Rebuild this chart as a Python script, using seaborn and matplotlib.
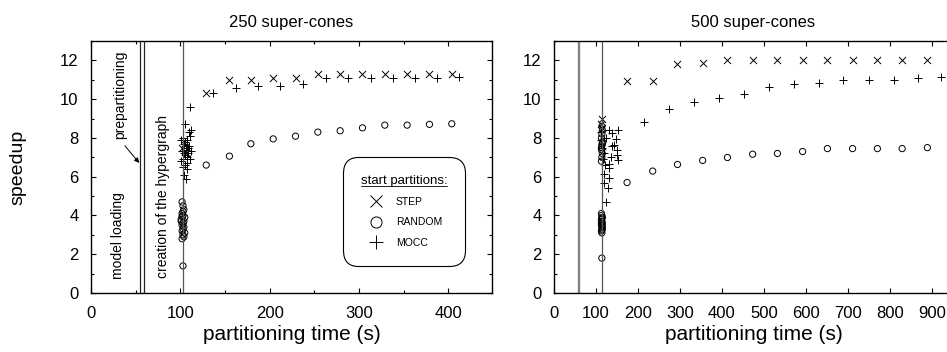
"""
speedup over partitioning time, 250 / 500 super-cones
"""
import matplotlib
matplotlib.use('Agg')
import matplotlib.pyplot as plt
from matplotlib.lines import Line2D
from matplotlib.ticker import MultipleLocator
import seaborn as sns

sns.set_style('ticks')
plt.rcParams['font.family'] = ['Liberation Sans', 'DejaVu Sans']
plt.rcParams['text.color'] = 'black'
plt.rcParams['axes.labelcolor'] = 'black'
plt.rcParams['xtick.color'] = 'black'
plt.rcParams['ytick.color'] = 'black'
plt.rcParams['axes.edgecolor'] = 'black'

# ---- 250 super-cones ----
step_250_x = [102, 104, 106, 129, 155, 179, 204, 229, 254, 279, 304, 329, 354, 379, 404]
step_250_y = [7.5, 7.7, 7.2, 10.3, 11.0, 11.0, 11.1, 11.1, 11.3, 11.3, 11.3, 11.3, 11.3, 11.3, 11.3]

random_250_x = [102, 103, 104, 102, 103, 105, 101, 104, 103, 102, 104, 103, 102, 105, 103, 104, 102, 103,
                101, 103, 102,
                129, 155, 179, 204, 229, 254, 279, 304, 329, 354, 379, 404]
random_250_y = [4.7, 4.5, 4.3, 4.1, 4.0, 3.9, 3.8, 3.7, 3.6, 3.5, 3.4, 3.3, 3.2, 3.1, 3.0, 2.9, 2.8, 4.2,
                3.7, 1.4, 3.95,
                6.6, 7.06, 7.7, 7.95, 8.09, 8.3, 8.37, 8.52, 8.66, 8.66, 8.7, 8.73]

mocc_250_x = [101, 103, 105, 107, 109, 111, 102, 104, 106, 108, 110, 112, 101, 103, 105, 107, 109, 111,
              103, 105, 107, 104, 106, 108, 110, 112, 111, 105, 104, 106,
              137, 162, 187, 212, 237, 263, 288, 313, 338, 363, 388, 412]
mocc_250_y = [7.9, 8.0, 7.8, 7.6, 7.5, 8.1, 7.3, 7.2, 7.4, 7.0, 7.6, 7.3, 6.8, 6.9, 7.1, 6.7, 7.2, 6.9,
              6.5, 6.6, 6.4, 7.7, 7.5, 7.9, 8.3, 8.4, 9.6, 8.7, 6.1, 5.9,
              10.3, 10.55, 10.67, 10.7, 10.8, 11.1, 11.1, 11.1, 11.1, 11.1, 11.1, 11.15]

# ---- 500 super-cones ----
step_500_x = [114, 113, 115, 114, 174, 235, 294, 354, 413, 473, 532, 592, 651, 711, 770, 829, 889]
step_500_y = [9.0, 8.7, 8.5, 7.6, 10.95, 10.95, 11.8, 11.87, 12.0, 12.0, 12.0, 12.0, 12.0, 12.0, 12.0,
              12.0, 12.0]

random_500_x = [114, 113, 115, 114, 113, 115, 114, 113, 115, 114, 113, 114, 115, 113, 114, 114,
                113, 114, 115, 113, 114, 115, 113, 114, 115, 114, 113, 115,
                174, 235, 294, 354, 413, 473, 532, 592, 651, 711, 770, 829, 889]
random_500_y = [3.1, 3.2, 3.3, 3.4, 3.5, 3.6, 3.7, 3.8, 3.9, 4.0, 4.1, 3.25, 3.45, 3.65, 3.85, 1.8,
                6.8, 7.0, 7.2, 7.4, 7.6, 7.8, 8.0, 8.2, 8.4, 8.6, 7.5, 7.7,
                5.7, 6.29, 6.63, 6.84, 6.99, 7.16, 7.2, 7.3, 7.45, 7.45, 7.45, 7.45, 7.5]

mocc_500_x = [131, 139, 147, 143, 151, 149, 153, 131, 122, 130, 118, 130, 120, 128, 124, 112, 139, 135,
              113, 115, 117, 120, 125, 153,
              214, 274, 333, 392, 452, 512, 571, 631, 689, 750, 809, 867, 922]
mocc_500_y = [8.4, 8.23, 7.97, 7.63, 7.37, 7.11, 6.86, 6.68, 6.6, 6.43, 6.13, 5.91, 5.69, 5.4, 4.67,
              7.9, 7.58, 7.03, 8.3, 7.5, 6.9, 7.2, 8.0, 8.4,
              8.8, 9.47, 9.83, 10.07, 10.26, 10.64, 10.8, 10.85, 11.0, 11.0, 11.0, 11.1, 11.15]

# phase boundaries (s)
phases_250 = [55, 59, 103]
phases_500 = [56, 60, 115]

fig = plt.figure(figsize=(9.47, 3.52), dpi=100)
ax1 = fig.add_axes([0.0961, 0.1676, 0.4234, 0.7159])
ax2 = fig.add_axes([0.585, 0.1676, 0.4213, 0.7159])


def draw(ax, sx, sy, rx, ry, mx, my):
    sns.scatterplot(x=sx, y=sy, marker='x', s=26, color='black', linewidth=0.7, ax=ax)
    sns.scatterplot(x=rx, y=ry, marker='o', s=20, facecolor='none', edgecolor='black',
                    linewidth=0.7, ax=ax)
    sns.scatterplot(x=mx, y=my, marker='+', s=34, color='black', linewidth=0.7, ax=ax)


draw(ax1, step_250_x, step_250_y, random_250_x, random_250_y, mocc_250_x, mocc_250_y)
draw(ax2, step_500_x, step_500_y, random_500_x, random_500_y, mocc_500_x, mocc_500_y)

ax1.axvline(phases_250[0], color='#222222', lw=0.9)
ax1.axvline(phases_250[1], color='#222222', lw=0.9)
ax1.axvline(phases_250[2], color='#555555', lw=0.9)
ax2.axvline(phases_500[0], color='#808080', lw=1.0)
ax2.axvline(phases_500[1], color='#808080', lw=1.0)
ax2.axvline(phases_500[2], color='#555555', lw=0.9)

ax1.text(30, 2.95, 'model loading', rotation=90, ha='center', va='center', fontsize=10)
ax1.text(81, 5.0, 'creation of the hypergraph', rotation=90, ha='center', va='center', fontsize=10)
ax1.text(32.5, 10.2, 'prepartitioning', rotation=90, ha='center', va='center', fontsize=10)
ax1.annotate('', xy=(56, 6.6), xytext=(36, 7.7),
             arrowprops=dict(arrowstyle='-|>', color='black', lw=0.7, mutation_scale=7))

ax1.set_xlim(0, 449)
ax2.set_xlim(0, 950)
for ax in (ax1, ax2):
    ax.set_ylim(0, 13)
    ax.yaxis.set_major_locator(MultipleLocator(2))
    ax.yaxis.set_minor_locator(MultipleLocator(1))
    ax.xaxis.set_major_locator(MultipleLocator(100))
    ax.tick_params(which='both', direction='in', top=True, right=True, labelsize=12,
                   width=0.8)
    ax.tick_params(axis='x', which='both', pad=9.5)
    ax.tick_params(axis='y', which='both', pad=9)
    ax.tick_params(which='major', length=3.6)
    ax.tick_params(which='minor', length=2.2)
    for sp in ax.spines.values():
        sp.set_linewidth(1.0)
    ax.set_xlabel('partitioning time (s)', fontsize=15, labelpad=3)
    ax.set_ylabel('')
ax1.xaxis.set_minor_locator(MultipleLocator(50))
ax1.set_title('250 super-cones', fontsize=12, pad=10)
ax2.set_title('500 super-cones', fontsize=12, pad=10)
fig.text(0.019, 0.525, 'speedup', rotation=90, ha='center', va='center', fontsize=14)

# legend
handles = [Line2D([], [], ls='none', marker='x', color='black', markersize=8, mew=0.7),
           Line2D([], [], ls='none', marker='o', mfc='none', mec='black', markersize=8, mew=0.7),
           Line2D([], [], ls='none', marker='+', color='black', markersize=10, mew=0.7)]
leg = ax1.legend(handles, ['STEP', 'RANDOM', 'MOCC'], title='start partitions:',
                 loc='upper left', bbox_to_anchor=(0.628, 0.54), borderaxespad=0,
                 fontsize=7.5, title_fontsize=9.5, frameon=True, fancybox=True,
                 labelspacing=1.0, handlelength=2.0, handletextpad=0.9, borderpad=1.7)
frame = leg.get_frame()
frame.set_edgecolor('black')
frame.set_linewidth(0.8)
frame.set_alpha(1)
frame.set_boxstyle('round,pad=0,rounding_size=1.5')

fig.canvas.draw()
tb = leg.get_title().get_window_extent()
fig.add_artist(Line2D([tb.x0 / fig.bbox.width, tb.x1 / fig.bbox.width],
                      [(tb.y0 + 1) / fig.bbox.height] * 2,
                      transform=fig.transFigure, color='black', lw=0.6))

plt.savefig('out.png', dpi=100)
